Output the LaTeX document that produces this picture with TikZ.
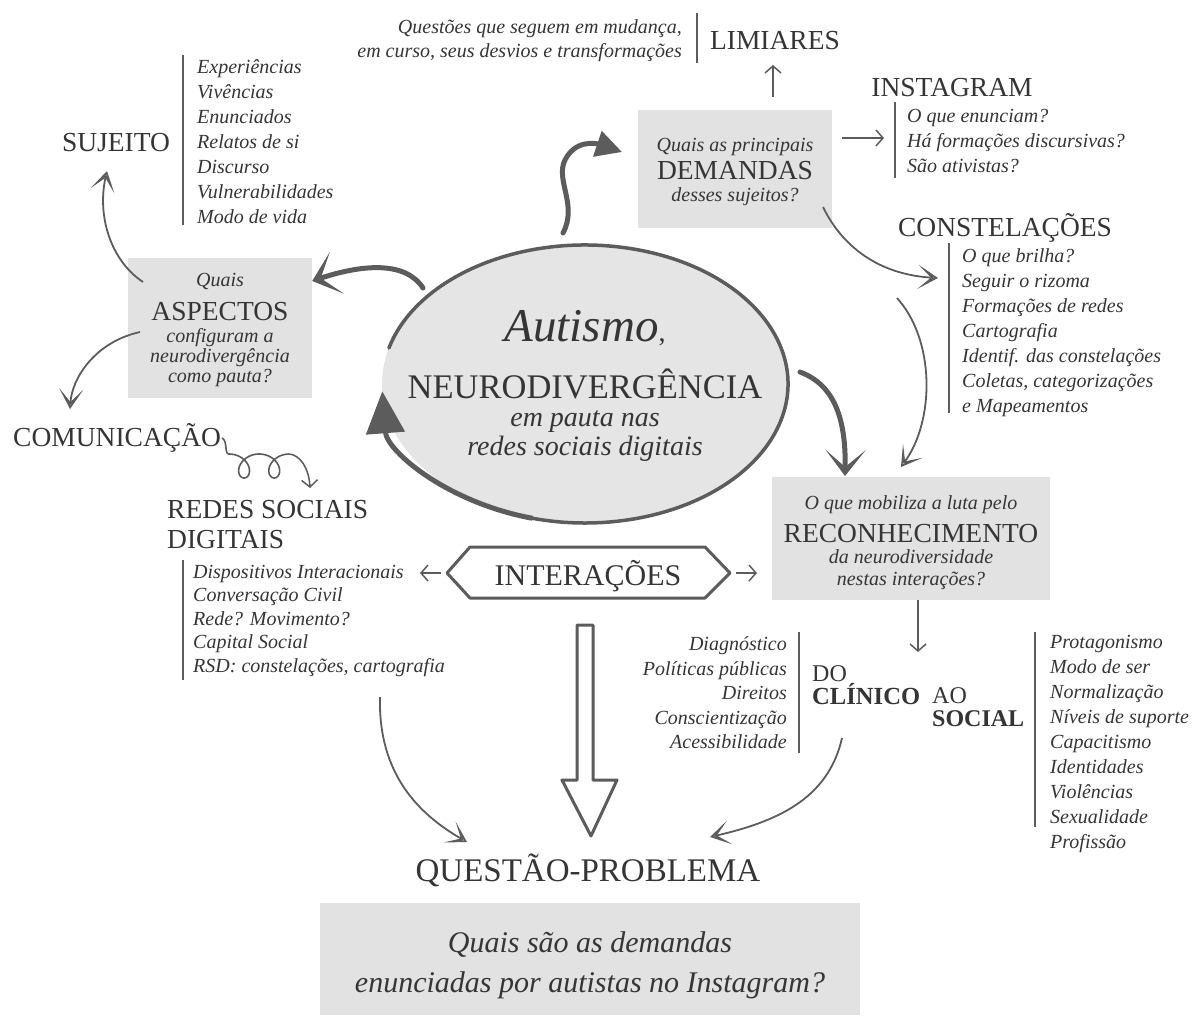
\documentclass[tikz,border=0pt]{standalone}
\usepackage{fontspec}
\setmainfont{Liberation Serif}
\usetikzlibrary{arrows.meta,shapes.geometric,calc}
\definecolor{ink}{HTML}{353535}
\definecolor{ln}{HTML}{5C5C5C}
\definecolor{boxg}{HTML}{E2E2E2}
\definecolor{ellg}{HTML}{E5E5E5}
\newcommand\hsz{\fontsize{20}{24}\selectfont\itshape}
\newcommand\csz{\fontsize{27.5}{28}\selectfont\upshape}
\begin{document}
\begin{tikzpicture}[x=1pt,y=-1pt,
  capsl/.style={font={\fontsize{27.5}{30}\selectfont}, text=ink, inner sep=0},
  hnd/.style={font={\fontsize{20}{25}\selectfont\itshape}, text=ink, inner sep=0},
  divider/.style={draw=ln, line width=1.4},
  thinarrow/.style={draw=ln, line width=1.5, -{Straight Barb[length=7pt,width=16pt]}},
  curvarrow/.style={draw=ln, line width=1.8, -{Stealth[open,length=20pt,width=24pt,inset=13pt]}},
  heavy/.style={draw=ln, line width=5, line cap=round},
  greybox/.style={fill=boxg, inner sep=0, draw=none},
  boxtext/.style={inner sep=0, align=center, text=ink}
]
\useasboundingbox (0,0) rectangle (1194,1021);
\fill[white] (0,0) rectangle (1194,1021);

% ---------- top: LIMIARES ----------
\node[hnd, font={\fontsize{20}{24}\selectfont\itshape}, align=right, anchor=north east] (qtop) at (682,19.6)
  {Questões que seguem em mudança,\\em curso, seus desvios e transformações};
\draw[divider] (697,13) -- (697,63);
\node[capsl, anchor=base] (lim) at (775,49) {LIMIARES};

% ---------- DEMANDAS box ----------
\node[greybox, minimum width=194, minimum height=118] (dem) at (735,169) {};
\node[boxtext, font={\fontsize{20}{26}\selectfont}] (demt) at (735,172)
  {{\hsz Quais as principais}\\[2pt]{\csz DEMANDAS}\\[-4pt]{\hsz desses sujeitos?}};
\coordinate (limA) at (773,97);
\draw[thinarrow] (limA) -- (773,65);

% ---------- INSTAGRAM ----------
\node[capsl, anchor=base] (insta) at (952,96) {INSTAGRAM};
\draw[divider] (895,102) -- (895,178);
\node[hnd, align=left, anchor=north west] (instal) at (907,108.6)
  {O que enunciam?\\Há formações discursivas?\\São ativistas?};
\coordinate (demR) at (842,138);
\draw[thinarrow] (demR) -- (884,138);

% ---------- CONSTELACOES ----------
\node[capsl, anchor=base] (const) at (1005,236) {CONSTELAÇÕES};
\draw[divider] (949,243) -- (949,413);
\node[hnd, align=left, anchor=north west] (constl) at (962,248.6)
  {O que brilha?\\Seguir o rizoma\\Formações de redes\\Cartografia\\Identif. das constelações\\Coletas, categorizações\\e Mapeamentos};
\coordinate (demBR) at (823,207);
\coordinate (constIn) at (938,278);
\draw[curvarrow] (demBR) .. controls (845,252) and (885,275) .. (constIn);
\coordinate (constOut) at (897,298);
\coordinate (recIn) at (901,467);
\draw[curvarrow] (constOut) .. controls (935,340) and (935,420) .. (recIn);

% ---------- SUJEITO ----------
\node[capsl, anchor=base] (suj) at (116,151) {SUJEITO};
\draw[divider] (183,55) -- (183,225);
\node[hnd, align=left, anchor=north west] (sujl) at (197,59.6)
  {Experiências\\Vivências\\Enunciados\\Relatos de si\\Discurso\\Vulnerabilidades\\Modo de vida};

% ---------- ASPECTOS box ----------
\node[greybox, minimum width=184, minimum height=140] (asp) at (220,328) {};
\node[boxtext, font={\fontsize{20}{20}\selectfont}] (aspt) at (220,330)
  {{\hsz Quais}\\[11.5pt]{\csz ASPECTOS}\\[2.5pt]{\hsz configuram a}\\{\hsz neurodivergência}\\{\hsz como pauta?}};
\coordinate (aspTL) at (143,282);
\coordinate (sujIn) at (107,171);
\draw[curvarrow] (aspTL) .. controls (110,260) and (97,215) .. (sujIn);
\coordinate (aspL) at (140,332);
\coordinate (comIn) at (70,409);
\draw[curvarrow] (aspL) .. controls (95,342) and (72,378) .. (comIn);

% ---------- COMUNICACAO & REDES ----------
\node[capsl, anchor=base west] (com) at (13,446) {COMUNICAÇÃO};
\draw[ln, line width=1.6] (222,438) .. controls (228,441) and (224,454) .. (229,454)
  -- plot[domain=0:12.566, samples=90, smooth] ({229+4.8*\x+12*sin(\x r)},{466-12*cos(\x r)});
\coordinate (loopEnd) at (289.3,454);
\draw[thinarrow] (loopEnd) .. controls (300,455) and (309,468) .. (310,488);
\node[capsl, align=left, anchor=north west] (redes) at (167,499.8) {REDES SOCIAIS\\DIGITAIS};
\draw[divider] (183,560) -- (183,680);
\node[hnd, font={\fontsize{20}{23.5}\selectfont\itshape}, align=left, anchor=north west] (redesl) at (193,564.6)
  {Dispositivos Interacionais\\Conversação Civil\\Rede? Movimento?\\Capital Social\\RSD: constelações, cartografia};

% ---------- central ellipse ----------
\node[ellipse, fill=ellg, minimum width=406, minimum height=278, inner sep=0] (ell) at (585,384) {};
\draw[ln, line width=3.5, line cap=round] ($(ell.center)+(195:203 and 139)$)
  arc[start angle=195, end angle=470, x radius=203, y radius=139];
\draw[ln, line width=5, -{Triangle[length=42pt,width=38pt]}] ($(ell.center)+(465:203 and 139)$)
  arc[start angle=465, end angle=537, x radius=203, y radius=139];
\node[inner sep=0, align=center, text=ink, font={\fontsize{28}{28}\selectfont}] (core) at (585,386)
  {{\fontsize{47}{47}\selectfont\itshape Autismo\upshape\fontsize{28}{28}\selectfont,}\\[22pt]
   {\fontsize{34.5}{36}\selectfont NEURODIVERGÊNCIA}\\
   {\itshape em pauta nas}\\[1pt]
   {\itshape redes sociais digitais}};

% heavy arrows from the ellipse
\coordinate (ellTop) at (563,233);
\draw[heavy, -{Triangle[length=26pt,width=26pt]}] (ellTop) .. controls (578,205) and (555,180) .. (565,160)
  .. controls (575,140) and (595,143) .. (622,152);
\coordinate (ellUL) at (423,288);
\draw[heavy, -{Stealth[length=26pt,width=44pt,inset=17pt]}] (ellUL) .. controls (405,260) and (360,265) .. (asp.east |- 0,281);
\coordinate (ellR) at (800,372);
\draw[heavy, -{Stealth[length=26pt,width=40pt,inset=17pt]}] (ellR) .. controls (835,385) and (846,420) .. (845,476);

% ---------- RECONHECIMENTO box ----------
\node[greybox, minimum width=278, minimum height=123] (rec) at (911,538.5) {};
\node[boxtext, font={\fontsize{20}{22}\selectfont}] (rect) at (911,542.5)
  {{\hsz O que mobiliza a luta pelo}\\[9.5pt]{\csz RECONHECIMENTO}\\[-0.5pt]{\hsz da neurodiversidade}\\{\hsz nestas interações?}};
\draw[thinarrow] (rec.south -| 918,0) -- (918,652);

% ---------- INTERACOES ----------
\node[inner sep=0, text=ink, font={\fontsize{30}{30}\selectfont}, anchor=base] (inter) at (588,585) {INTERAÇÕES};
\draw[ln, line width=3, line join=round] (447,573) -- (470,547) -- (705,547) -- (730,573) -- (705,598) -- (470,598) -- cycle;
\draw[thinarrow] (441,573) -- (420,573);
\draw[thinarrow] (736,573) -- (757,573);
\draw[ln, line width=3, line join=round, fill=white] (577,625) -- (593,625) -- (593,780) -- (617,780) -- (591,836) -- (562,780) -- (577,780) -- cycle;

% ---------- DO CLINICO AO SOCIAL ----------
\node[hnd, font={\fontsize{20}{24.5}\selectfont\itshape}, align=right, anchor=north east] (clin) at (787,636.6)
  {Diagnóstico\\Políticas públicas\\Direitos\\Conscientização\\Acessibilidade};
\draw[divider] (799,632) -- (799,753);
\node[inner sep=0, text=ink, font={\fontsize{24}{24}\selectfont}, anchor=base west] (do) at (812,681) {DO};
\node[inner sep=0, text=ink, font={\fontsize{24.6}{24}\selectfont\bfseries}, anchor=base west] (clinico) at (812,704) {CLÍNICO};
\node[inner sep=0, text=ink, font={\fontsize{24}{24}\selectfont}, anchor=base west] (ao) at (932,703) {AO};
\node[inner sep=0, text=ink, font={\fontsize{24}{24}\selectfont\bfseries}, anchor=base west] (social) at (932,726) {SOCIAL};
\draw[divider] (1035,632) -- (1035,827);
\node[hnd, align=left, anchor=north west] (socl) at (1050,634.6)
  {Protagonismo\\Modo de ser\\Normalização\\Níveis de suporte\\Capacitismo\\Identidades\\Violências\\Sexualidade\\Profissão};

% ---------- arrows to question ----------
\coordinate (redesOut) at (380,697);
\coordinate (qpL) at (467,842);
\draw[curvarrow] (redesOut) .. controls (378,775) and (420,815) .. (qpL);
\coordinate (clinOut) at (842,738);
\coordinate (qpR) at (710,837);
\draw[curvarrow] (clinOut) .. controls (828,800) and (775,822) .. (qpR);

% ---------- QUESTAO-PROBLEMA ----------
\node[inner sep=0, text=ink, font={\fontsize{33}{33}\selectfont}, anchor=base] (qp) at (588,881) {QUESTÃO-PROBLEMA};
\node[greybox, minimum width=540, minimum height=112] (qpb) at (590,959) {};
\node[boxtext, font={\fontsize{30}{40}\selectfont\itshape}] (qpt) at (590,965)
  {Quais são as demandas\\enunciadas por autistas no Instagram?};
\end{tikzpicture}
\end{document}
